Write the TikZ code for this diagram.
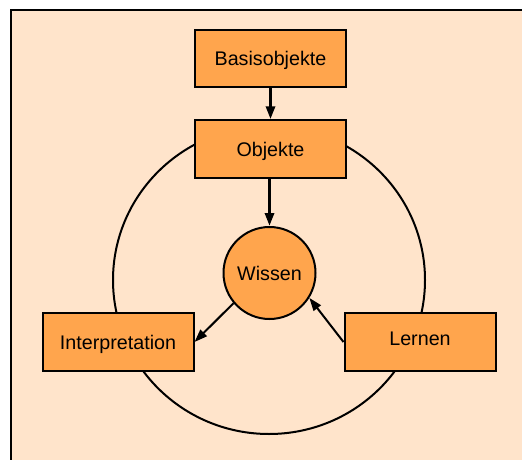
\documentclass[tikz,border=0pt]{standalone}
\usepackage{fontspec}
\setmainfont{Liberation Sans}
\usetikzlibrary{arrows.meta}
\definecolor{panel}{RGB}{255,228,203}
\definecolor{boxfill}{RGB}{255,165,77}
\begin{document}
\begin{tikzpicture}[x=1pt,y=-1pt,
  stepbox/.style={draw=black, line width=2pt, fill=boxfill, rectangle,
    minimum width=151pt, minimum height=57.5pt, inner sep=0pt,
    font=\fontsize{19.7}{23}\selectfont, text height=14pt, text depth=0pt},
  core/.style={draw=black, line width=2pt, fill=boxfill, circle,
    minimum size=92pt, inner sep=0pt,
    font=\fontsize{19.7}{23}\selectfont, text height=14pt, text depth=0pt},
  flow/.style={line width=3pt, -{Triangle[length=13pt,width=9pt]}},
  link/.style={line width=2pt, -{Triangle[length=13pt,width=9pt]}}]
  \useasboundingbox (0,0) rectangle (522,460);
  % panel
  \draw[fill=panel, line width=2.5pt] (11,10) rectangle (540,480);
  % cycle
  \draw[line width=2pt] (269,280) ellipse [x radius=156, y radius=154];
  % nodes
  \node[stepbox] (basis) at (270.5,58.5) {Basisobjekte};
  \node[stepbox] (obj) at (270.5,149) {Objekte};
  \node[core] (wissen) at (269.5,273) {Wissen};
  \node[stepbox] (interp) at (118,342) {Interpretation};
  \node[stepbox, text depth=8pt] (lernen) at (420,342) {Lernen};
  % connectors
  \draw[flow] (basis) -- (obj);
  \draw[flow] (obj.south -| wissen.north) -- (wissen.north);
  \draw[link] (wissen.220) -- (interp.east);
  \draw[link] (lernen.west) -- (wissen.-32);
\end{tikzpicture}
\end{document}
